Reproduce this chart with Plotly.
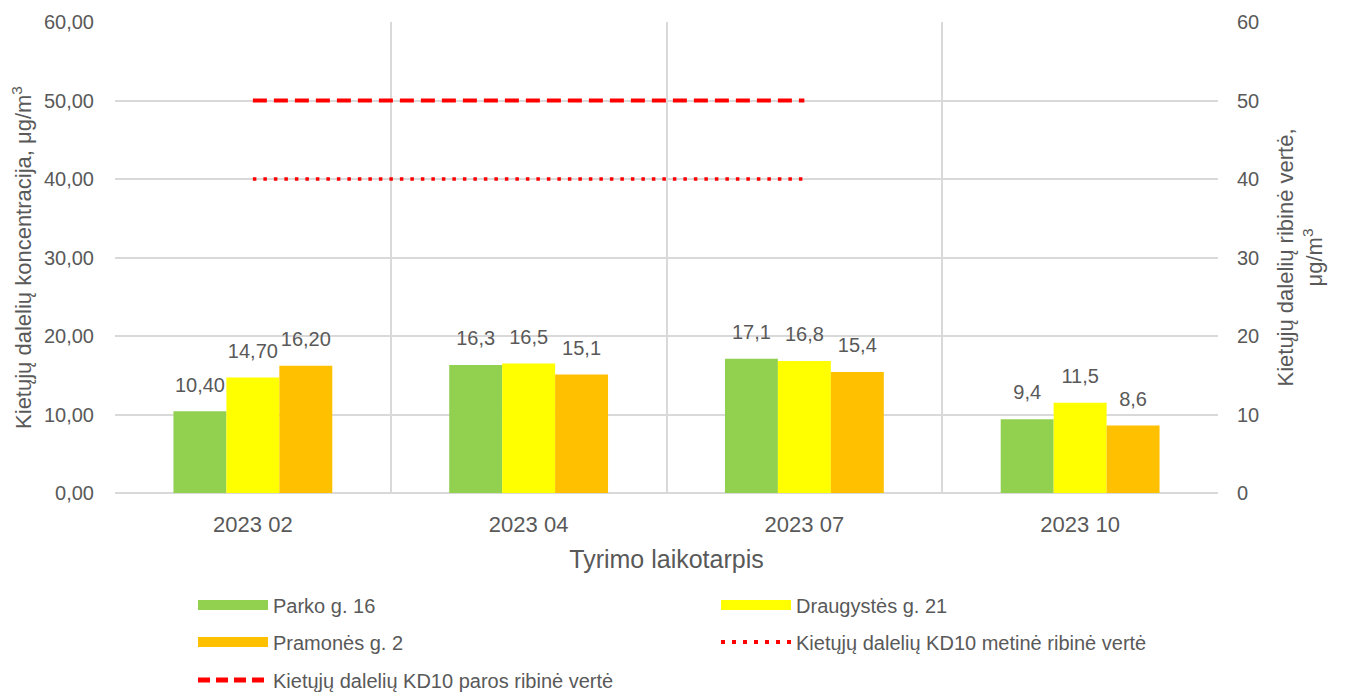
import plotly.graph_objects as go

categories = ["2023 02", "2023 04", "2023 07", "2023 10"]
parko = [10.4, 16.3, 17.1, 9.4]
draugystes = [14.7, 16.5, 16.8, 11.5]
pramones = [16.2, 15.1, 15.4, 8.6]
parko_lbl = ["10,40", "16,3", "17,1", "9,4"]
draugystes_lbl = ["14,70", "16,5", "16,8", "11,5"]
pramones_lbl = ["16,20", "15,1", "15,4", "8,6"]
limit_cats = ["2023 02", "2023 04", "2023 07"]
annual_limit = [40, 40, 40]
daily_limit = [50, 50, 50]

names = ["Parko g. 16", "Draugystės g. 21", "Pramonės g. 2",
         "Kietųjų dalelių KD10 metinė ribinė vertė",
         "Kietųjų dalelių KD10 paros ribinė vertė"]
colors = ["#92D050", "#FFFF00", "#FFC000"]
RED = "#FF0000"
TXT = "#595959"
GRID = "#D9D9D9"
FONT = "Liberation Sans, Arial, sans-serif"

fig = go.Figure()
series = [(parko, parko_lbl, colors[0], names[0], "g1"),
          (draugystes, draugystes_lbl, colors[1], names[1], "g2"),
          (pramones, pramones_lbl, colors[2], names[2], "g3")]
for vals, lbls, col, nm, og in series:
    fig.add_trace(go.Bar(x=categories, y=vals, offsetgroup=og,
                         marker=dict(color=col, line=dict(width=0)),
                         showlegend=False, name=nm))
# data labels, placed above each bar via grouped scatter
for vals, lbls, col, nm, og in series:
    fig.add_trace(go.Scatter(x=categories, y=vals, text=lbls, offsetgroup=og,
                             mode="markers+text", textposition="top center",
                             marker=dict(size=22, opacity=0, color=col),
                             textfont=dict(size=20, color=TXT, family=FONT),
                             cliponaxis=False, showlegend=False, hoverinfo="skip",
                             name=nm))

# limit lines on an overlaying (hidden) category axis, all in one offset group
fig.add_trace(go.Scatter(x=limit_cats, y=annual_limit, mode="lines",
                         xaxis="x2", yaxis="y2", offsetgroup="L",
                         line=dict(color=RED, width=3.5, dash="3.5px,7px"),
                         showlegend=False, name=names[3]))
fig.add_trace(go.Scatter(x=limit_cats, y=daily_limit, mode="lines",
                         xaxis="x2", yaxis="y2", offsetgroup="L",
                         line=dict(color=RED, width=4, dash="14px,7px"),
                         showlegend=False, name=names[4]))

# legend entries (one legend per entry to mimic the 2-column layout)
leg_items = [
    (names[0], dict(color=colors[0], width=12), "legend"),
    (names[1], dict(color=colors[1], width=12), "legend2"),
    (names[2], dict(color=colors[2], width=12), "legend3"),
    (names[3], dict(color=RED, width=4, dash="4px,7px"), "legend4"),
    (names[4], dict(color=RED, width=5, dash="12px,6px"), "legend5"),
]
for nm, ln, lg in leg_items:
    fig.add_trace(go.Scatter(x=[categories[0]], y=[None], mode="lines", name=nm,
                             line=ln, legend=lg, xaxis="x2", yaxis="y2",
                             offsetgroup="L", hoverinfo="skip"))

def leg(x, y):
    return dict(orientation="h", x=x, xanchor="left", y=y, yanchor="middle",
                itemwidth=70, font=dict(size=20, color=TXT, family=FONT),
                bgcolor="rgba(0,0,0,0)", borderwidth=0)

COL1, COL2 = 0.0707, 0.5449
ROW1, ROW2, ROW3 = -0.2378, -0.3163, -0.397

# page body has an 8px default margin: figure is sized to fit the window
fig.update_layout(
    width=1338, height=688,
    margin=dict(l=107, r=128, t=14, b=203, autoexpand=False),
    paper_bgcolor="white", plot_bgcolor="white",
    barmode="group", bargap=0.424, bargroupgap=0,
    scattermode="group", scattergap=0.424,
    separators=", ",
    font=dict(family=FONT, color=TXT, size=20),
    xaxis=dict(type="category", tickson="boundaries", showgrid=True,
               categoryorder="array", categoryarray=categories,
               range=[-0.5, len(categories) - 0.5],
               gridcolor=GRID, gridwidth=1.5, ticks="", showline=False,
               automargin=False,
               tickfont=dict(size=22, color=TXT), ticklabelstandoff=16,
               title=dict(text="Tyrimo laikotarpis", font=dict(size=25, color=TXT),
                          standoff=14)),
    xaxis2=dict(type="category", overlaying="x", visible=False,
                categoryorder="array", categoryarray=categories,
                range=[-0.5, len(categories) - 0.5], automargin=False),
    yaxis=dict(range=[0, 60], dtick=10, tickformat=".2f", showgrid=True,
               gridcolor=GRID, gridwidth=1.5, zeroline=True,
               zerolinecolor=GRID, zerolinewidth=1.5, ticks="", automargin=False,
               tickfont=dict(size=20, color=TXT), ticklabelstandoff=20,
               title=dict(text="Kietųjų dalelių koncentracija, μg/m<sup>3</sup>",
                          font=dict(size=22, color=TXT), standoff=16)),
    yaxis2=dict(range=[0, 60], dtick=10, tickformat="d", overlaying="y", side="right",
                showgrid=False, zeroline=False, ticks="", automargin=False,
                tickfont=dict(size=20, color=TXT), ticklabelstandoff=18,
                title=dict(text="Kietųjų dalelių ribinė vertė,<br>μg/m<sup>3</sup>",
                           font=dict(size=22, color=TXT), standoff=19)),
    legend=leg(COL1, ROW1),
    legend2=leg(COL2, ROW1),
    legend3=leg(COL1, ROW2),
    legend4=leg(COL2, ROW2),
    legend5=leg(COL1, ROW3),
)

fig.write_html("out.html")
